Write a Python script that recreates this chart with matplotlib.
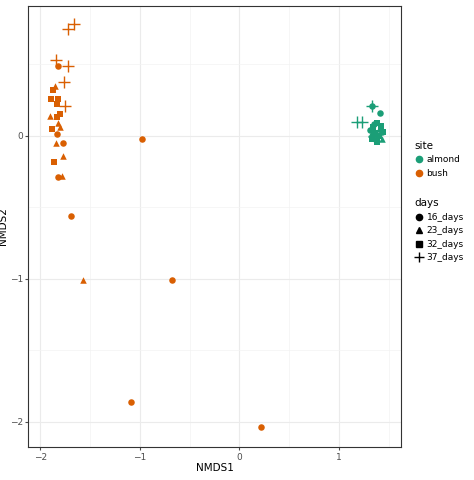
import matplotlib
matplotlib.use("Agg")
import matplotlib.pyplot as plt
from matplotlib.lines import Line2D

# bush
b_circ_x=[-1.82,-1.77,-1.83,-1.82,-0.98,-1.69,-0.68,-1.09,0.22]
b_circ_y=[0.49,-0.05,0.01,-0.29,-0.02,-0.56,-1.01,-1.86,-2.04]
b_tri_x=[-1.85,-1.90,-1.82,-1.80,-1.84,-1.77,-1.78,-1.57]
b_tri_y=[0.35,0.14,0.09,0.06,-0.05,-0.14,-0.28,-1.01]
b_sq_x=[-1.87,-1.89,-1.82,-1.83,-1.80,-1.83,-1.88,-1.86]
b_sq_y=[0.32,0.26,0.26,0.22,0.15,0.13,0.05,-0.18]
b_cr_x=[-1.66,-1.72,-1.84,-1.72,-1.76,-1.75]
b_cr_y=[0.78,0.75,0.53,0.49,0.38,0.21]
# almond
a_circ_x=[1.33,1.41,1.35,1.43,1.31]
a_circ_y=[0.21,0.16,0.08,0.03,0.04]
a_tri_x=[1.35,1.40,1.43,1.37,1.32]
a_tri_y=[0.04,0.05,-0.02,-0.01,0.01]
a_sq_x=[1.34,1.38,1.42,1.36,1.40,1.44,1.33,1.38]
a_sq_y=[0.06,0.09,0.07,0.02,0.00,0.03,-0.02,-0.04]
a_cr_x=[1.18,1.23,1.33,1.35]
a_cr_y=[0.10,0.10,0.21,0.00]

A='#1B9E77'; B='#D95F02'
fig=plt.figure(figsize=(4.74,4.8),dpi=100)
ax=fig.add_axes([0.06,0.068,0.785,0.92])
for c,sets in [(B,[(b_circ_x,b_circ_y,'o'),(b_tri_x,b_tri_y,'^'),(b_sq_x,b_sq_y,'s'),(b_cr_x,b_cr_y,'+')]),
               (A,[(a_circ_x,a_circ_y,'o'),(a_tri_x,a_tri_y,'^'),(a_sq_x,a_sq_y,'s'),(a_cr_x,a_cr_y,'+')])]:
    for x,y,m in sets:
        if m=='+':
            ax.scatter(x,y,marker='+',s=70,color=c,linewidths=1.0,zorder=3)
        else:
            ax.scatter(x,y,marker=m,s=22,color=c,linewidths=0,zorder=3)
ax.set_xlim(-2.12,1.62); ax.set_ylim(-2.18,0.91)
ax.set_xticks([-2,-1,0,1]); ax.set_yticks([-2,-1,0])
ax.set_xticks([-1.5,-0.5,0.5,1.5],minor=True); ax.set_yticks([-1.5,-0.5,0.5],minor=True)
ax.grid(True,which='major',color='#EBEBEB',lw=0.8)
ax.grid(True,which='minor',color='#F3F3F3',lw=0.5)
ax.set_axisbelow(True)
ax.tick_params(which='minor',length=0)
ax.tick_params(labelsize=6.5,colors='#4D4D4D',length=2.5,pad=1.5)
for s in ax.spines.values(): s.set_color('#333333'); s.set_linewidth(0.8)
ax.set_xlabel('NMDS1',fontsize=7.5,labelpad=1)
ax.set_ylabel('NMDS2',fontsize=7.5,labelpad=1)
h1=[Line2D([],[],marker='o',ls='',color=A,ms=4.5),Line2D([],[],marker='o',ls='',color=B,ms=4.5)]
fig.legend(h1,['almond','bush'],title='site',loc='upper left',bbox_to_anchor=(0.86,0.72),frameon=False,fontsize=6.5,title_fontsize=7.5,alignment='left',handletextpad=0.2,handlelength=1.2,borderpad=0.2)
h2=[Line2D([],[],marker=m,ls='',color='black',ms=4.5 if m!='+' else 7) for m in 'o^s+']
fig.legend(h2,['16_days','23_days','32_days','37_days'],title='days',loc='upper left',bbox_to_anchor=(0.86,0.60),frameon=False,fontsize=6.5,title_fontsize=7.5,alignment='left',handletextpad=0.2,handlelength=1.2,borderpad=0.2)
fig.savefig('out.png',dpi=100)
